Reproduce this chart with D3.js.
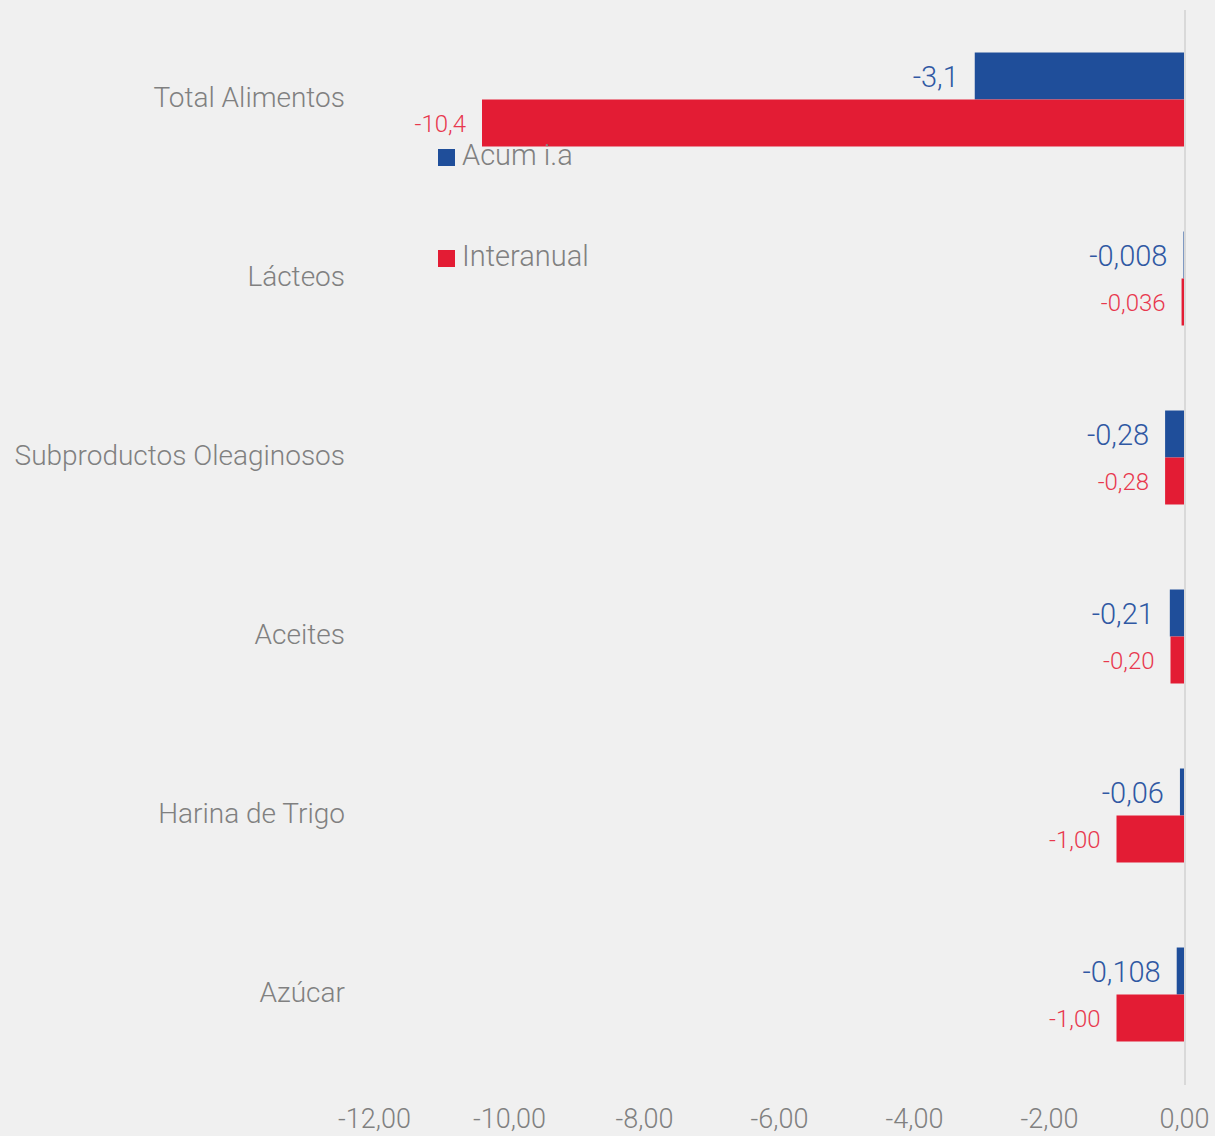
<!DOCTYPE html>
<html lang="es">
<head>
<meta charset="utf-8">
<script src="https://cdn.jsdelivr.net/npm/d3@7"></script>
<style>
  html, body { margin: 0; padding: 0; background: #f0f0f0; }
  svg { display: block; }
  text { font-family: Roboto, "Noto Sans", sans-serif; }
</style>
</head>
<body>
<svg id="chart" width="1215" height="1136"></svg>
<script>
// Categories, top to bottom
const categories = ["Total Alimentos", "Lácteos", "Subproductos Oleaginosos", "Aceites", "Harina de Trigo", "Azúcar"];
// Series: cumulative year-on-year and year-on-year variation
const seriesNames = ["Acum i.a", "Interanual"];
const acumValues = [-3.1, -0.008, -0.28, -0.21, -0.06, -0.108];
const acumDecimals = [1, 3, 2, 2, 2, 3];
const interValues = [-10.4, -0.036, -0.28, -0.20, -1.00, -1.00];
const interDecimals = [1, 3, 2, 2, 2, 2];
// Axis ticks
const tickValues = [-12, -10, -8, -6, -4, -2, 0];

const colors = { bar: ["#1f4e9a", "#e31c34"], label: ["#2f58a3", "#e8384e"] };
const grey = "#808080";

const locale = d3.formatLocale({ decimal: ",", thousands: ".", grouping: [3], currency: ["$", ""], minus: "-" });
const fmt = (v, d) => locale.format(`.${d}f`)(v);

const svg = d3.select("#chart");

const x = d3.scaleLinear().domain([-12, 0]).range([374, 1184]);
const y = d3.scaleBand().domain(categories).range([10, 1084]).paddingInner(0.475).paddingOuter(0.2375);
const ys = d3.scaleBand().domain(seriesNames).range([0, y.bandwidth()]);

const rows = categories.map((c, i) => ({
  cat: c,
  items: [
    { s: seriesNames[0], v: acumValues[i], d: acumDecimals[i], k: 0 },
    { s: seriesNames[1], v: interValues[i], d: interDecimals[i], k: 1 }
  ]
}));

// Zero reference line
svg.append("line")
  .attr("x1", x(0) + 1).attr("x2", x(0) + 1)
  .attr("y1", 10).attr("y2", 1085)
  .attr("stroke", "#d9d9d9").attr("stroke-width", 2);

// Bars
const groups = svg.append("g").selectAll("g")
  .data(rows).join("g")
  .attr("transform", d => `translate(0,${y(d.cat)})`);

groups.selectAll("rect")
  .data(d => d.items).join("rect")
  .attr("x", d => x(d.v))
  .attr("width", d => x(0) - x(d.v))
  .attr("y", d => ys(d.s))
  .attr("height", ys.bandwidth())
  .attr("fill", d => colors.bar[d.k]);

// Value labels
groups.selectAll("text.val")
  .data(d => d.items).join("text")
  .attr("class", "val")
  .attr("x", d => x(d.v) - 16)
  .attr("y", d => ys(d.s) + ys.bandwidth() / 2 + 1)
  .attr("text-anchor", "end")
  .attr("dominant-baseline", "central")
  .attr("font-size", d => d.k === 0 ? 29 : 24)
  .attr("font-weight", 300)
  .attr("fill", d => colors.label[d.k])
  .text(d => fmt(d.v, d.d));

// Category labels
svg.append("g").selectAll("text")
  .data(categories).join("text")
  .attr("x", 345)
  .attr("y", d => y(d) + y.bandwidth() / 2 - 2)
  .attr("text-anchor", "end")
  .attr("dominant-baseline", "central")
  .attr("font-size", 28)
  .attr("font-weight", 300)
  .attr("fill", grey)
  .text(d => d);

// Bottom axis
const axis = svg.append("g")
  .attr("transform", "translate(0,1097)")
  .call(d3.axisBottom(x).tickValues(tickValues).tickFormat(v => fmt(v, 2)).tickSize(0).tickPadding(0));
axis.select(".domain").remove();
axis.selectAll("text")
  .attr("dy", "1.15em")
  .attr("font-size", 27)
  .attr("font-weight", 300)
  .attr("font-family", "Roboto, sans-serif")
  .attr("fill", grey);

// Legend
const legend = svg.append("g").selectAll("g")
  .data(seriesNames).join("g")
  .attr("transform", (d, i) => `translate(438,${i === 0 ? 149 : 250})`);
legend.append("rect")
  .attr("width", 17).attr("height", 17)
  .attr("fill", (d, i) => colors.bar[i]);
legend.append("text")
  .attr("x", 24).attr("y", 16)
  .attr("font-size", 29)
  .attr("font-weight", 300)
  .attr("fill", grey)
  .text(d => d);
</script>
</body>
</html>
